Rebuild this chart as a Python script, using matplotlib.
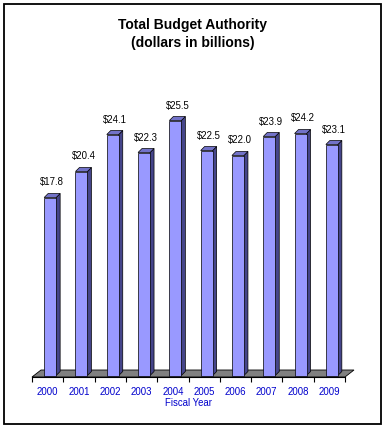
import matplotlib
matplotlib.use("Agg")
import matplotlib.pyplot as plt
from matplotlib.patches import Polygon, Rectangle
import numpy as np

years = ["2000", "2001", "2002", "2003", "2004", "2005", "2006", "2007", "2008", "2009"]
values = [17.8, 20.4, 24.1, 22.3, 25.5, 22.5, 22.0, 23.9, 24.2, 23.1]
labels = ["$17.8", "$20.4", "$24.1", "$22.3", "$25.5", "$22.5", "$22.0", "$23.9", "$24.2", "$23.1"]
title = "Total Budget Authority\n(dollars in billions)"
xlabel = "Fiscal Year"

plt.rcParams['font.family'] = ['Liberation Sans', 'DejaVu Sans']

W, H = 386, 428
fig = plt.figure(figsize=(W / 100, H / 100), dpi=100)
fig.patch.set_facecolor("white")

# outer frame
fig.patches.append(Rectangle((4 / W, 1 - 424 / H), 377 / W, 420 / H, transform=fig.transFigure,
                             fill=False, edgecolor="black", linewidth=1.3))

ax_left, ax_right = 32, 345
ax_bot, ax_top = 377, 60
ax = fig.add_axes([ax_left / W, 1 - ax_bot / H, (ax_right - ax_left) / W, (ax_bot - ax_top) / H])
ax.set_xlim(-0.5, 9.5)
ymin = -0.15
ax.set_ylim(ymin, ymin + (ax_bot - ax_top) / 10.0)
ax.set_facecolor("none")
for s in ["top", "right", "left"]:
    ax.spines[s].set_visible(False)
ax.spines["bottom"].set_linewidth(0.8)
ax.set_yticks([])

upx = 1 / 31.3   # x units per pixel
upy = 0.1        # y units per pixel

# floor
fdx, fdy = 9 * upx, 7 * upy
floor = Polygon([(-0.5, ymin), (9.5, ymin), (9.5 + fdx, ymin + fdy), (-0.5 + fdx, ymin + fdy)],
                closed=True, facecolor="#808080", edgecolor="black", linewidth=0.6, zorder=1, clip_on=False)
ax.add_patch(floor)

x = np.arange(len(years))
bw = 12 * upx
off = 2.5 * upx
ddx, ddy = 4 * upx, 4 * upy
front = "#9999FF"
side = "#45458A"
topc = "#7272C8"

bars = ax.bar(x + off, values, width=bw, bottom=0, color=front, edgecolor="black", linewidth=0.5, zorder=3)
for xi, v in zip(x + off, values):
    l, r = xi - bw / 2, xi + bw / 2
    ax.add_patch(Polygon([(r, 0), (r + ddx, ddy), (r + ddx, v + ddy), (r, v)], closed=True,
                         facecolor=side, edgecolor="black", linewidth=0.5, zorder=2, clip_on=False))
    ax.add_patch(Polygon([(l, v), (r, v), (r + ddx, v + ddy), (l + ddx, v + ddy)], closed=True,
                         facecolor=topc, edgecolor="black", linewidth=0.5, zorder=2, clip_on=False))

for xi, v, lab in zip(x + off, values, labels):
    ax.text(xi + ddx / 2, v + 1.5, lab, ha="center", va="center", fontsize=6.9, color="black")

ax.set_xticks(x)
ax.set_xticklabels(years, fontsize=6.9, color="#0000CC")
ax.tick_params(axis="x", which="major", length=0, pad=7)
ax.set_xticks(np.arange(-0.5, 10, 1), minor=True)
ax.tick_params(axis="x", which="minor", length=3.6, width=0.8, direction="out", color="black")

fig.text(188.5 / W, 1 - 403 / H, xlabel, ha="center", va="center", fontsize=6.9, color="#0000CC")
fig.text(193 / W, 1 - 34 / H, title, ha="center", va="center", fontsize=10, fontweight="bold",
         linespacing=1.3)

fig.savefig("out.png", dpi=100)
